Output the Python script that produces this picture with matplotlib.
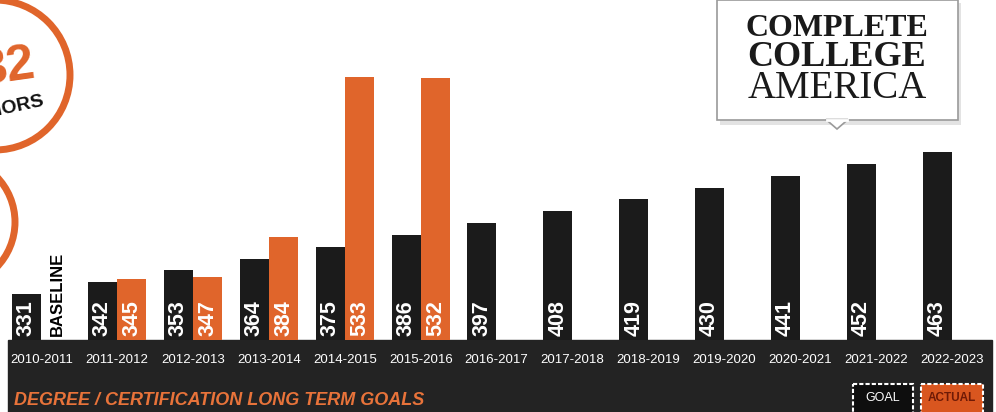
import numpy as np
import matplotlib
matplotlib.use("Agg")
import matplotlib.pyplot as plt
from matplotlib.patches import Rectangle, Circle, Polygon

# -----------------------------
# Data
# -----------------------------
years = ["2010-2011", "2011-2012", "2012-2013", "2013-2014", "2014-2015",
         "2015-2016", "2016-2017", "2017-2018", "2018-2019", "2019-2020",
         "2020-2021", "2021-2022", "2022-2023"]
goal = [331, 342, 353, 364, 375, 386, 397, 408, 419, 430, 441, 452, 463]
actual = [None, 345, 347, 384, 533, 532, None, None, None, None, None, None, None]

# -----------------------------
# Styles
# -----------------------------
BLACK = "#1b1b1b"
ORANGE = "#e0652b"
BAND = "#232323"
SANS = ["Liberation Sans", "DejaVu Sans"]
SERIF = ["Liberation Serif", "DejaVu Serif"]

W, H = 996, 412
fig = plt.figure(figsize=(W / 100, H / 100), dpi=100)
fig.patch.set_facecolor("white")

# decoration layer in pixel coordinates
deco = fig.add_axes([0, 0, 1, 1], zorder=0)
deco.set_xlim(0, W)
deco.set_ylim(H, 0)
deco.axis("off")

# bar axes: baseline at pixel row 340
base_px = 340
ax = fig.add_axes([0, 1 - base_px / H, 1, base_px / H], zorder=2)
ax.patch.set_alpha(0)
px_per_unit = 1.076
y0 = 288.3
ax.set_ylim(y0, y0 + base_px / px_per_unit)
step = 75.9
x0 = 26.5
ax.set_xlim(-x0 / step, (W - x0) / step)
ax.axis("off")

x = np.arange(len(years))
bw = 29 / step
off = 29.5 / step
lab_y = y0 + 4 / px_per_unit

# goal bars
ax.bar(x, [g - y0 for g in goal], bottom=y0, width=bw, color=BLACK)
for i, g in enumerate(goal):
    ax.text(x[i], lab_y, str(g), rotation=90, ha="center", va="bottom",
            color="white", fontsize=15.5, fontweight="bold", family=SANS)

# actual bars
act_x = [x[i] + off for i in range(len(actual)) if actual[i] is not None]
act_v = [a for a in actual if a is not None]
ax.bar(act_x, [v - y0 for v in act_v], bottom=y0, width=bw, color=ORANGE)
for xi, v in zip(act_x, act_v):
    ax.text(xi, lab_y, str(v), rotation=90, ha="center", va="bottom",
            color="white", fontsize=15.5, fontweight="bold", family=SANS)

ax.text(x[0] + off + 0.02, lab_y, "BASELINE", rotation=90, ha="center",
        va="bottom", color="black", fontsize=12, fontweight="bold",
        family=SANS)

# dark band with year labels
deco.add_patch(Rectangle((8, base_px), 984, H - base_px, color=BAND, zorder=1))
lab_ax = fig.add_axes([0, 0, 1, (H - base_px) / H], zorder=3)
lab_ax.set_xlim(ax.get_xlim())
lab_ax.set_ylim(H, base_px)
lab_ax.axis("off")
for i, yr in enumerate(years):
    lab_ax.text(x[i] + off / 2, 360, yr, ha="center", va="center",
                color="white", fontsize=9.5, family=SANS)

deco.text(14, 405, "DEGREE / CERTIFICATION LONG TERM GOALS", ha="left",
          va="baseline", color="#e8733a", fontsize=13, fontweight="bold",
          style="italic", family=SANS, zorder=3)

# legend boxes
deco.add_patch(Rectangle((853, 384), 60, 32, facecolor="#0e0e0e",
                         edgecolor="white", lw=1.5, ls=(0, (2, 1)), zorder=3))
deco.text(883, 398, "GOAL", ha="center", va="center", color="white",
          fontsize=9, family=SANS, zorder=4)
deco.add_patch(Rectangle((921, 384), 62, 32, facecolor="#d9561f",
                         edgecolor="white", lw=1.5, ls=(0, (2, 1)), zorder=3))
deco.text(952, 398, "ACTUAL", ha="center", va="center", color="#6e1a06",
          fontsize=8.5, fontweight="bold", family=SANS, zorder=4)

# circles on the left (partly off the page, as in the source)
deco.add_patch(Circle((-5, 75), 75, facecolor="white", edgecolor=ORANGE,
                      lw=5, zorder=1))
deco.add_patch(Circle((-50, 222), 65, facecolor="white", edgecolor=ORANGE,
                      lw=5, zorder=1))
deco.text(38, 85, "32", ha="right", va="baseline", color=ORANGE, fontsize=36,
          fontweight="bold", family=SANS, rotation=8, zorder=2)
deco.text(46, 118, "NIORS", ha="right", va="baseline", color="#111111",
          fontsize=14, fontweight="bold", family=SANS, rotation=12, zorder=2)

# logo box
deco.add_patch(Rectangle((720, 3), 241, 122, facecolor="#c8c8c8",
                         edgecolor="none", zorder=1, alpha=0.5))
deco.add_patch(Rectangle((717, 0), 241, 120, facecolor="white",
                         edgecolor="#9a9a9a", lw=1.2, zorder=1))
deco.add_patch(Polygon([[826, 119.5], [848, 119.5], [837, 129]],
                       closed=True, facecolor="white", edgecolor="#9a9a9a",
                       lw=1.2, zorder=1))
deco.plot([827, 847], [119.5, 119.5], color="white", lw=2, zorder=1)
deco.text(837, 36, "COMPLETE", ha="center", va="baseline", color="#1a1a1a",
          fontsize=23, fontweight="bold", family=SERIF, zorder=2)
deco.text(837, 66, "COLLEGE", ha="center", va="baseline", color="#1a1a1a",
          fontsize=26, fontweight="bold", family=SERIF, zorder=2)
deco.text(837, 98, "AMERICA", ha="center", va="baseline", color="#1a1a1a",
          fontsize=28, family=SERIF, zorder=2)

fig.savefig("out.png", dpi=100)
